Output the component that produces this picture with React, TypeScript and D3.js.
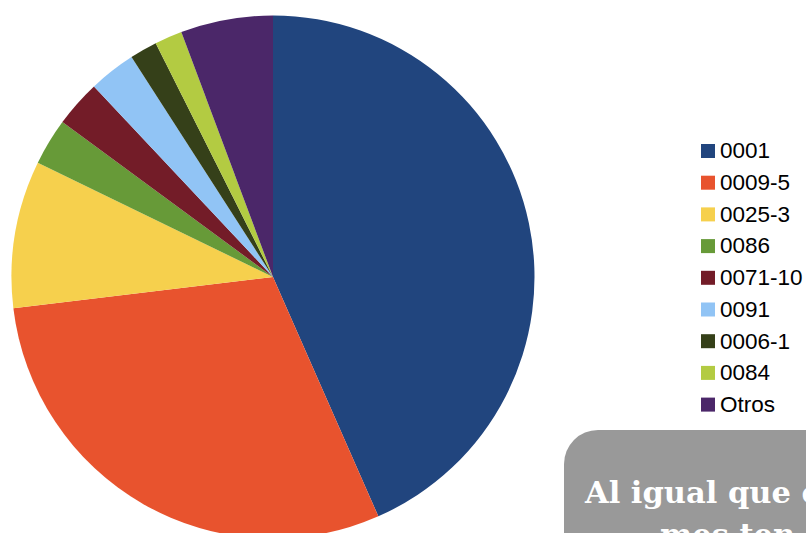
import React from "react";
import * as d3 from "d3";

const categories = ["0001", "0009-5", "0025-3", "0086", "0071-10", "0091", "0006-1", "0084", "Otros"];
const values = [43.4, 29.7, 9.1, 2.9, 2.9, 2.9, 1.7, 1.7, 5.7];
const colors = ["#21457E", "#E8532E", "#F6D04D", "#679A38", "#731C28", "#91C4F5", "#354019", "#B3CB42", "#4B2769"];
const calloutLines = ["Al igual que e", "mes ten"];

export default function App() {
  const W = 806, H = 533;
  const cx = 273, cy = 277, r = 261.5;
  const pie = d3.pie<number>().sort(null).value((d) => d);
  const arcs = pie(values);
  const arc = d3.arc<d3.PieArcDatum<number>>().innerRadius(0).outerRadius(r);
  const legendY = d3.scaleLinear().domain([0, 1]).range([158.3, 190]);

  return (
    <svg width={W} height={H} style={{ position: "absolute", left: 0, top: 0, background: "#fff" }}>
      <g transform={`translate(${cx},${cy})`}>
        {arcs.map((a, i) => (
          <path key={i} d={arc(a) || ""} fill={colors[i]} />
        ))}
      </g>
      <g>
        {categories.map((c, i) => (
          <g key={c}>
            <rect x={701} y={legendY(i) - 14.3} width={14} height={14} fill={colors[i]} />
            <text x={720} y={legendY(i)} fontFamily="Liberation Sans, Arial, sans-serif" fontSize={22.5} fill="#000">
              {c}
            </text>
          </g>
        ))}
      </g>
      <g>
        <rect x={564} y={430} width={300} height={160} rx={34} ry={34} fill="#999999" />
        <text x={585} y={503} fontFamily="DejaVu Serif, serif" fontWeight="bold" fontSize={30.5} fill="#ffffff">
          {calloutLines[0]}
        </text>
        <text x={660} y={545} fontFamily="DejaVu Serif, serif" fontWeight="bold" fontSize={30.5} fill="#ffffff">
          {calloutLines[1]}
        </text>
      </g>
    </svg>
  );
}
